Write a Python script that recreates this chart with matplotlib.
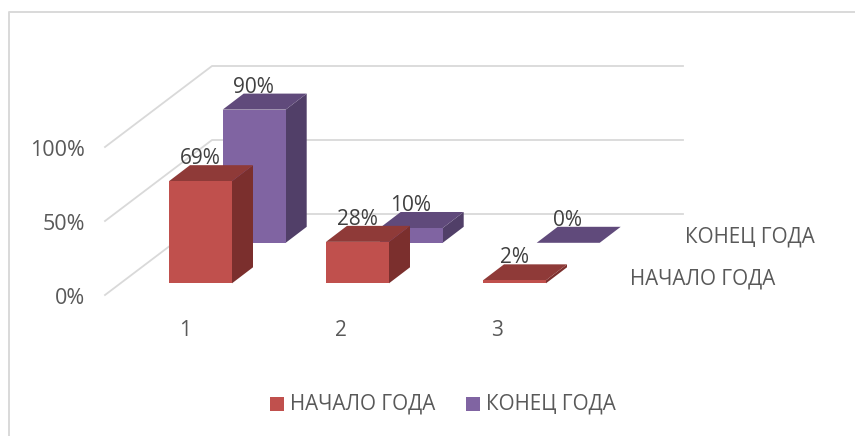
"""3D-look column chart, drawn with an oblique projection on a pixel-sized axes."""

import matplotlib
matplotlib.use("Agg")
import matplotlib.pyplot as plt
from matplotlib.patches import Polygon, Rectangle

categories = ["1", "2", "3"]
series_names = ["НАЧАЛО ГОДА", "КОНЕЦ ГОДА"]
start_values = [69, 28, 2]
end_values = [90, 10, 0]
y_ticks = [0, 50, 100]

FONT = "Open Sans"
TEXT = "#595959"
GRID = "#D9D9D9"
start_colors = ("#C0504D", "#8F3A38", "#7B2F2D")  # front, top, side
end_colors = ("#8064A2", "#604A7B", "#513F68")

# oblique projection, all in pixels
PX_PER_PCT = 1.48
BAR_W = 63
DEPTH_X, DEPTH_Y = 21, 16
CAT_X = [169, 326, 483]
CAT_LABEL_X = [185, 341, 497]
ROW_SHIFT = (53.7, 40.5)
BASE_Y = 283.3


def draw_bar(ax, x0, base, value, colors):
    top = base - value * PX_PER_PCT
    x1 = x0 + BAR_W
    front, roof, side = colors
    ax.add_patch(Polygon([(x1, base), (x1 + DEPTH_X, base - DEPTH_Y),
                          (x1 + DEPTH_X, top - DEPTH_Y), (x1, top)],
                         facecolor=side, edgecolor="none", zorder=3))
    ax.add_patch(Polygon([(x0, top), (x0 + DEPTH_X, top - DEPTH_Y),
                          (x1 + DEPTH_X, top - DEPTH_Y), (x1, top)],
                         facecolor=roof, edgecolor="none", zorder=3))
    if value > 0:
        ax.add_patch(Rectangle((x0, top), BAR_W, base - top,
                               facecolor=front, edgecolor="none", zorder=3))
    return top


def main():
    fig = plt.figure(figsize=(8.55, 4.36), dpi=100)
    ax = fig.add_axes([0, 0, 1, 1])
    ax.set_xlim(0, 855)
    ax.set_ylim(436, 0)
    ax.axis("off")

    # chart frame
    ax.plot([9, 9, 855], [436, 12.5, 12.5], color=GRID, lw=1.4, zorder=1)

    # gridlines on floor and back wall
    for tick in y_ticks:
        y = 295 - tick * PX_PER_PCT
        ax.plot([105, 212, 683], [y, y - 81, y - 81], color=GRID, lw=1.3, zorder=1)
        ax.text(85, y + 3, f"{tick}%", ha="right", va="center",
                fontsize=15.5, color=TEXT, family=FONT)

    # back row first so the front row overlaps it
    rows = [(end_values, end_colors, ROW_SHIFT), (start_values, start_colors, (0, 0))]
    for values, colors, (dx, dy) in rows:
        for x0, value in zip(CAT_X, values):
            top = draw_bar(ax, x0 + dx, BASE_Y - dy, value, colors)
            ax.text(x0 + dx + BAR_W / 2 - 0.5, top - 22.5, f"{value}%", ha="center",
                    va="center", fontsize=15, color="#404040", family=FONT, zorder=5)

    for x, cat in zip(CAT_LABEL_X, categories):
        ax.text(x, 330, cat, ha="center", va="center",
                fontsize=15, color=TEXT, family=FONT)

    # depth axis labels
    ax.text(630, 278.5, series_names[0], ha="left", va="center",
            fontsize=14.9, color=TEXT, family=FONT)
    ax.text(685, 236.5, series_names[1], ha="left", va="center",
            fontsize=14.9, color=TEXT, family=FONT)

    # legend
    for x, name, colors in [(270, series_names[0], start_colors),
                            (466, series_names[1], end_colors)]:
        ax.add_patch(Rectangle((x, 397), 14, 14, facecolor=colors[0], edgecolor="none"))
        ax.text(x + 20, 404, name, ha="left", va="center",
                fontsize=14.9, color=TEXT, family=FONT)

    fig.savefig("out.png", dpi=100)
    plt.close(fig)


if __name__ == "__main__":
    main()
